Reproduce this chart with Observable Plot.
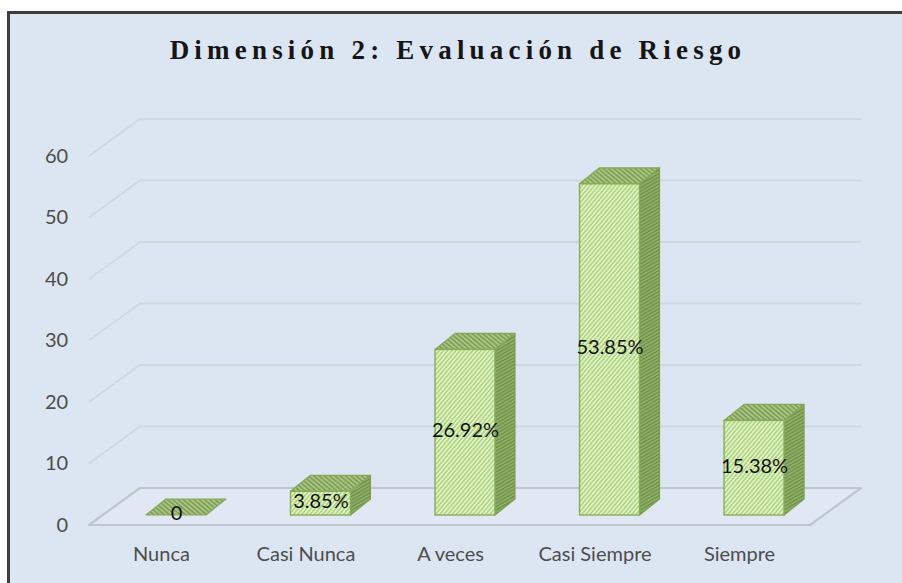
<!DOCTYPE html>
<html>
<head>
<meta charset="utf-8">
<script src="https://cdn.jsdelivr.net/npm/d3@7"></script>
<script src="https://cdn.jsdelivr.net/npm/@observablehq/plot@0.6"></script>
<style>
  html, body { margin: 0; padding: 0; background: #ffffff; }
  #wrap { position: relative; width: 902px; height: 583px; overflow: hidden; }
  #frame { position: absolute; left: 7px; top: 11px; width: 920px; height: 600px;
           background: #dce6f2; border-left: 3px solid #3d3d3d; border-top: 3px solid #3d3d3d; }
  #title { position: absolute; left: 0; width: 916px; top: 36px; text-align: center;
           font-family: "Liberation Serif", "Times New Roman", serif; font-weight: bold;
           font-size: 27px; line-height: 28px; letter-spacing: 5.2px; color: #151515; }
  #chart { position: absolute; left: 0; top: 95px; }
</style>
</head>
<body>
<div id="wrap">
  <div id="frame"></div>
  <div id="title"></div>
  <div id="chart"></div>
</div>
<script>
const title = "Dimensión 2: Evaluación de Riesgo";
const categories = ["Nunca", "Casi Nunca", "A veces", "Casi Siempre", "Siempre"];
const values = [0, 3.85, 26.92, 53.85, 15.38];
const valueLabels = ["0", "3.85%", "26.92%", "53.85%", "15.38%"];
const yTicks = [0, 10, 20, 30, 40, 50, 60];

document.getElementById("title").textContent = title;

const data = categories.map((c, i) => ({cat: c, value: values[i], label: valueLabels[i]}));

// 3D oblique geometry (pixels)
const BAR_DX = 20, BAR_DY = -16;     // bar depth
const FLOOR_DX = 51, FLOOR_DY = -37; // floor depth
const FRONT_OFF = 10;                // bar plane is this far behind the floor front edge

function bw(x) { return typeof x.bandwidth === "function" ? x.bandwidth() : x.bandwidth; }

// background walls, floor, gridlines + hatch pattern definitions
function walls(index, scales) {
  const {x, y} = scales;
  const g = d3.create("svg:g");
  const defs = g.append("defs");
  function hatch(id, bg, fg, angle, size, sw) {
    const p = defs.append("pattern").attr("id", id)
      .attr("patternUnits", "userSpaceOnUse")
      .attr("width", size).attr("height", size)
      .attr("patternTransform", `rotate(${angle})`);
    p.append("rect").attr("width", size).attr("height", size).attr("fill", bg);
    p.append("line").attr("x1", size / 2).attr("y1", 0).attr("x2", size / 2).attr("y2", size)
      .attr("stroke", fg).attr("stroke-width", sw);
  }
  hatch("hFront", "#e1f4c4", "#a6cc78", 40, 3.2, 1.3);
  hatch("hSide", "#97b66d", "#6b8944", 60, 3, 1.4);
  hatch("hTop", "#a9c683", "#7b9a53", -50, 3.4, 1.5);

  const [xl, xr] = x.range();
  const y0 = y(0) + FRONT_OFF;
  const FL = xl - 13.6, FR = xr - 17.4;
  // gridlines on side & back wall
  for (const t of yTicks) {
    if (t === 0) continue;
    const yy = y(t) + FRONT_OFF;
    g.append("path")
      .attr("d", `M${FL},${yy}L${FL + FLOOR_DX},${yy + FLOOR_DY}L${FR + FLOOR_DX},${yy + FLOOR_DY}`)
      .attr("fill", "none").attr("stroke", "#d2d7de").attr("stroke-width", 1.8);
  }
  // floor
  g.append("path")
    .attr("d", `M${FL},${y0}L${FR},${y0}L${FR + FLOOR_DX},${y0 + FLOOR_DY}L${FL + FLOOR_DX},${y0 + FLOOR_DY}Z`)
    .attr("fill", "#dfe8f3").attr("stroke", "#bfc6cf").attr("stroke-width", 2.2)
    .attr("stroke-linejoin", "round");
  return g.node();
}

// side and top faces of the 3D columns
function faces(index, scales) {
  const {x, y} = scales;
  const w = bw(x);
  const g = d3.create("svg:g");
  const y0 = y(0);
  data.forEach(d => {
    const x1 = x(d.cat), x2 = x1 + w, yv = y(d.value);
    if (d.value > 0) {
      g.append("path")
        .attr("d", `M${x2},${y0}L${x2 + BAR_DX},${y0 + BAR_DY}L${x2 + BAR_DX},${yv + BAR_DY}L${x2},${yv}Z`)
        .attr("fill", "url(#hSide)").attr("stroke", "#7c9f52").attr("stroke-width", 1.2)
        .attr("stroke-linejoin", "round");
    }
    g.append("path")
      .attr("d", `M${x1},${yv}L${x1 + BAR_DX},${yv + BAR_DY}L${x2 + BAR_DX},${yv + BAR_DY}L${x2},${yv}Z`)
      .attr("fill", "url(#hTop)").attr("stroke", "#84a85a").attr("stroke-width", 1.2)
      .attr("stroke-linejoin", "round");
  });
  return g.node();
}

const chart = Plot.plot({
  width: 902,
  height: 488,
  marginLeft: 102.6,
  marginRight: 74.6,
  marginTop: 51,
  marginBottom: 68,
  style: {fontFamily: "Lato, 'Open Sans', sans-serif", fontSize: "20px", color: "#4d4d4d", background: "transparent", overflow: "visible"},
  x: {type: "band", domain: categories, paddingInner: 0.585, paddingOuter: 0.3, align: 0.5, round: false},
  y: {domain: [0, 60]},
  marks: [
    walls,
    faces,
    Plot.barY(data.filter(d => d.value > 0), {x: "cat", y: "value", fill: "url(#hFront)", stroke: "#86ad5a", strokeWidth: 1.4}),
    Plot.axisY({ticks: yTicks, tickSize: 0, tickPadding: 35, dy: 10, label: null, fontSize: 20}),
    Plot.axisX({tickSize: 0, tickPadding: 31, dx: -15, label: null, fontSize: 20}),
    Plot.text(data, {x: "cat", y: d => d.value / 2, text: "label", fill: "#111111", fontSize: 20, dy: -2})
  ]
});
document.getElementById("chart").appendChild(chart);
</script>
</body>
</html>
